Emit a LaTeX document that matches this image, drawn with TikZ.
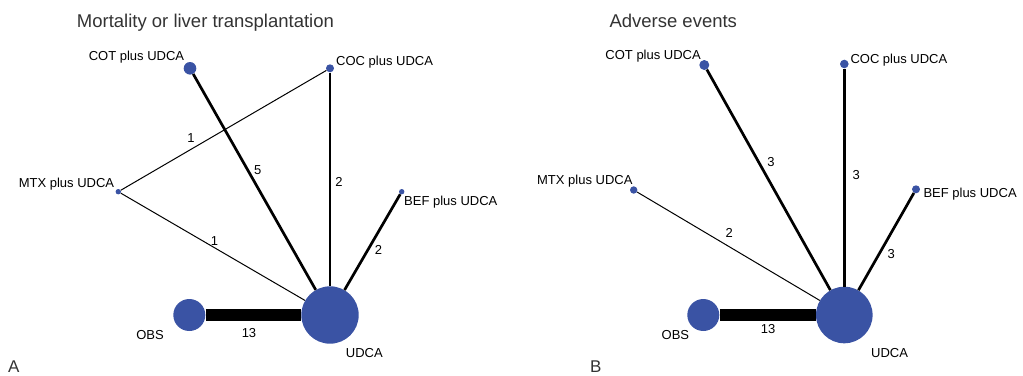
\documentclass[tikz,border=0pt]{standalone}
\usepackage{fontspec}
\setmainfont{Liberation Sans}
\usetikzlibrary{calc}
\definecolor{nodeblue}{RGB}{58,83,164}

\begin{document}
\begin{tikzpicture}[x=1pt,y=-1pt]
    \tikzset{
        trt/.style={circle, fill=nodeblue, inner sep=0pt},
        tname/.style={inner sep=0pt, font=\fontsize{13}{15}\selectfont},
        num/.style={inner sep=0pt, font=\fontsize{13}{15}\selectfont},
        ttl/.style={inner sep=0pt, font=\fontsize{18.5}{22}\selectfont, text=black!80},
        few/.style={draw, line width=1pt},
        some/.style={draw, line width=2.7pt},
        many/.style={draw, line width=11.7pt},
    };
    \useasboundingbox (0,0) rectangle (1023,375);

    % panel A
    \node [ttl, anchor=base west] (atitle) at (76.7,27) {Mortality or liver transplantation};
    \node [trt, minimum size=12.6pt] (aCOT) at (190,68.3) {};
    \node [trt, minimum size=8pt] (aCOC) at (330,68.3) {};
    \node [trt, minimum size=5.4pt] (aMTX) at (118.3,191.7) {};
    \node [trt, minimum size=5.4pt] (aBEF) at (401.7,191.7) {};
    \node [trt, minimum size=32pt] (aOBS) at (189.3,315) {};
    \node [trt, minimum size=57.4pt] (aUDCA) at (330,315) {};

    \node [tname, anchor=base east] (aCOTt) at (184.3,60) {COT plus UDCA};
    \node [tname, anchor=base west] (aCOCt) at (336,65) {COC plus UDCA};
    \node [tname, anchor=base east] (aMTXt) at (114.3,187) {MTX plus UDCA};
    \node [tname, anchor=base west] (aBEFt) at (404,205) {BEF plus UDCA};
    \node [tname, anchor=base east] (aOBSt) at (164,339) {OBS};
    \node [tname, anchor=base west] (aUDCAt) at (345.7,357) {UDCA};
    \node [ttl, anchor=base west, font=\fontsize{17}{20}\selectfont] (alabel) at (8,372) {A};

    \path [few] (aMTX)--(aCOC) node [num, pos=0.342, yshift=11pt] {1};
    \path [few] (aMTX)--(aUDCA) node [num, pos=0.509, yshift=6.6pt] {1};
    \path [some] (aCOT)--(aUDCA) node [num, pos=0.446, xshift=10pt] {5};
    \path [some] (aCOC)--(aUDCA) node [num, pos=0.512, xshift=9pt] {2};
    \path [some] (aBEF)--(aUDCA) node [num, pos=0.586, xshift=11pt] {2};
    \path [many] (aOBS)--(aUDCA) node [num, pos=0.455, yshift=-18pt] {13};

    % panel B
    \node [ttl, anchor=base west] (btitle) at (609.3,27) {Adverse events};
    \node [trt, minimum size=10pt] (bCOT) at (704.3,65) {};
    \node [trt, minimum size=8.6pt] (bCOC) at (844.3,64) {};
    \node [trt, minimum size=7.4pt] (bMTX) at (633.7,190) {};
    \node [trt, minimum size=8pt] (bBEF) at (916,189.3) {};
    \node [trt, minimum size=32pt] (bOBS) at (703.3,315) {};
    \node [trt, minimum size=56.6pt] (bUDCA) at (844.3,315) {};

    \node [tname, anchor=base east] (bCOTt) at (701,59) {COT plus UDCA};
    \node [tname, anchor=base west] (bCOCt) at (850.3,63) {COC plus UDCA};
    \node [tname, anchor=base east] (bMTXt) at (632.7,184) {MTX plus UDCA};
    \node [tname, anchor=base west] (bBEFt) at (923.3,197) {BEF plus UDCA};
    \node [tname, anchor=base east] (bOBSt) at (689.3,339) {OBS};
    \node [tname, anchor=base west] (bUDCAt) at (871,357) {UDCA};
    \node [ttl, anchor=base west, font=\fontsize{17}{20}\selectfont] (blabel) at (590,372) {B};

    \path [few] (bMTX)--(bUDCA) node [num, pos=0.505, yshift=14pt] {2};
    \path [some] (bCOT)--(bUDCA) node [num, pos=0.419, xshift=12.5pt] {3};
    \path [some] (bCOC)--(bUDCA) node [num, pos=0.489, xshift=12pt] {3};
    \path [some] (bBEF)--(bUDCA) node [num, pos=0.627, xshift=12pt] {3};
    \path [many] (bOBS)--(bUDCA) node [num, pos=0.504, yshift=-14.5pt] {13};
\end{tikzpicture}
\end{document}
